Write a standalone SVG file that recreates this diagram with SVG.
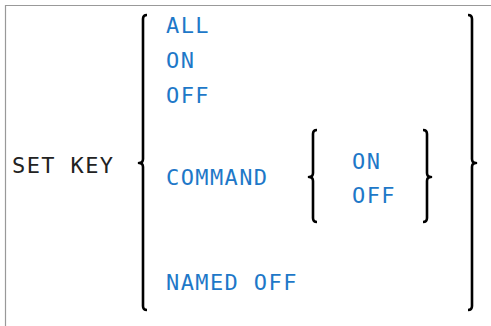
<svg xmlns="http://www.w3.org/2000/svg" width="491" height="326" viewBox="0 0 491 326">
<style>
.kw{font-family:"DejaVu Sans Mono","Liberation Mono",monospace;font-size:22px;letter-spacing:1.4px;fill:#1e78c8}
.k0{font-family:"DejaVu Sans Mono","Liberation Mono",monospace;font-size:22px;letter-spacing:1.4px;fill:#222}
.br{fill:none;stroke:#000;stroke-width:2.6;stroke-linejoin:round;stroke-linecap:butt}
</style>
<rect width="491" height="326" fill="#fff"/>
<path d="M5.5,326 L5.5,5.5 L491,5.5" fill="none" stroke="#999" stroke-width="1.2"/>
<g id="connectors">
<path class="br" d="M147,15 Q143,15 143,19 L143,159 Q143,163 139,163 Q143,163 143,167 L143,306 Q143,310 147,310"/>
<path class="br" d="M468,15 Q472,15 472,19 L472,159 Q472,163 476,163 Q472,163 472,167 L472,306 Q472,310 468,310"/>
<path class="br" d="M317,130 Q313,130 313,134 L313,173 Q313,177 309,177 Q313,177 313,181 L313,218 Q313,222 317,222"/>
<path class="br" d="M423,130 Q427,130 427,134 L427,173 Q427,177 431,177 Q427,177 427,181 L427,218 Q427,222 423,222"/>
</g>
<g id="setkey"><text class="k0" x="12" y="173">SET KEY</text></g>
<g id="all"><text class="kw" x="166" y="33">ALL</text></g>
<g id="on"><text class="kw" x="166" y="68">ON</text></g>
<g id="off"><text class="kw" x="166" y="103">OFF</text></g>
<g id="command"><text class="kw" x="166" y="185">COMMAND</text></g>
<g id="cmd-on"><text class="kw" x="352" y="169">ON</text></g>
<g id="cmd-off"><text class="kw" x="352" y="203">OFF</text></g>
<g id="named-off"><text class="kw" x="166" y="290">NAMED OFF</text></g>
</svg>
